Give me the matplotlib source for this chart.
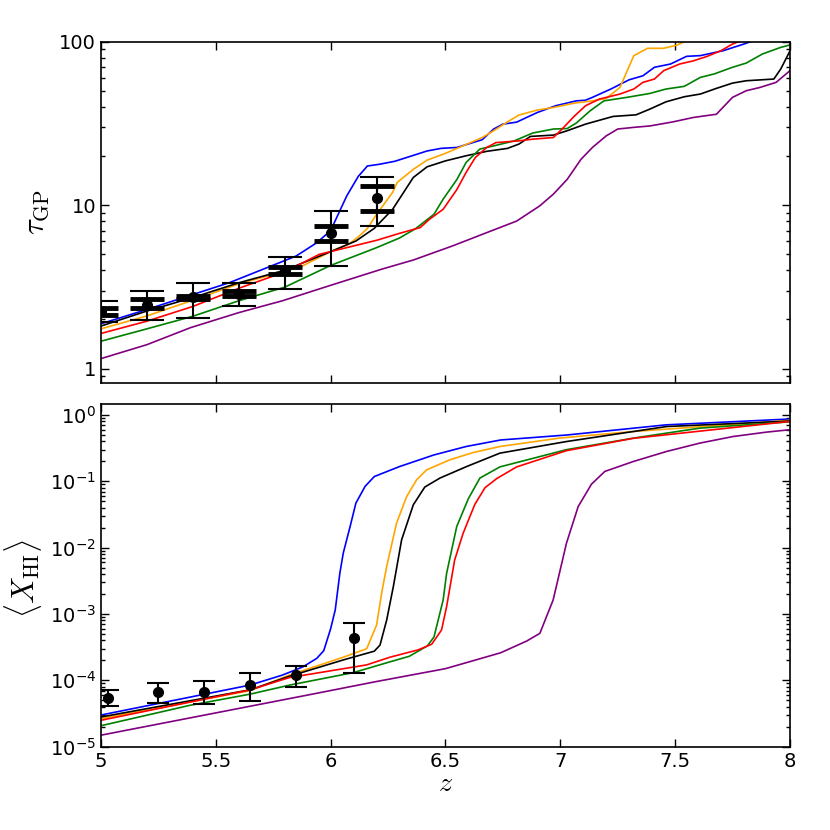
import math
import matplotlib
matplotlib.use("Agg")
import matplotlib.pyplot as plt
from matplotlib.ticker import FixedLocator, FuncFormatter, LogLocator, NullFormatter

plt.rcParams["font.family"] = ["DejaVu Sans"]
plt.rcParams["mathtext.fontset"] = "cm"

# --- tau_GP model curves (top panel)
z_tau_blue = [5.0, 5.2, 5.4, 5.56, 5.74, 5.85, 5.94, 6.0, 6.07, 6.12, 6.16, 6.21, 6.28, 6.42,
              6.48, 6.55, 6.66, 6.71, 6.75, 6.81, 6.90, 6.98, 7.07, 7.11, 7.14, 7.22, 7.30,
              7.36, 7.41, 7.48, 7.55, 7.61, 7.71, 7.80, 7.85]
tau_blue = [1.88, 2.3, 2.84, 3.36, 4.24, 4.89, 5.9, 7.0, 11.4, 15.0, 17.4, 17.8, 18.6, 21.5,
            22.3, 22.6, 25.2, 29.3, 31.4, 32.3, 37.0, 40.7, 43.6, 44.0, 45.8, 51.5, 58.7,
            62.1, 70.0, 73.3, 81.7, 82.5, 88.5, 97.2, 103.0]

z_tau_orange = [5.0, 5.2, 5.4, 5.6, 5.87, 6.0, 6.08, 6.12, 6.16, 6.2, 6.27, 6.29, 6.36, 6.42,
                6.5, 6.56, 6.66, 6.71, 6.77, 6.82, 6.9, 6.97, 7.06, 7.14, 7.2, 7.26, 7.32,
                7.38, 7.45, 7.51, 7.55]
tau_orange = [1.75, 2.1, 2.62, 3.3, 4.2, 5.2, 5.8, 6.4, 7.2, 8.8, 12.0, 13.8, 16.6, 18.9,
              20.8, 22.6, 26.0, 28.6, 32.4, 35.7, 38.3, 39.7, 42.2, 43.6, 45.1, 52.7, 82.4,
              91.5, 91.5, 95.9, 102.0]

z_tau_black = [5.0, 5.2, 5.4, 5.6, 5.8, 6.0, 6.11, 6.19, 6.27, 6.36, 6.42, 6.5, 6.59, 6.68,
               6.77, 6.82, 6.87, 6.97, 7.03, 7.11, 7.23, 7.33, 7.39, 7.46, 7.54, 7.61, 7.68,
               7.75, 7.81, 7.93, 7.96, 8.0]
tau_black = [1.82, 2.25, 2.72, 3.35, 4.0, 5.2, 6.04, 7.22, 9.45, 14.8, 17.2, 18.7, 20.1, 21.4,
             22.3, 23.7, 26.4, 26.9, 28.6, 31.4, 35.0, 35.8, 38.8, 43.0, 46.2, 48.0, 52.0,
             56.0, 57.9, 59.3, 68.3, 88.0]

z_tau_green = [5.0, 5.2, 5.4, 5.6, 5.8, 6.0, 6.2, 6.3, 6.37, 6.45, 6.49, 6.55, 6.59, 6.65,
               6.71, 6.8, 6.88, 6.97, 7.03, 7.07, 7.13, 7.19, 7.29, 7.39, 7.46, 7.54, 7.61,
               7.67, 7.75, 7.81, 7.88, 7.96, 8.0]
tau_green = [1.47, 1.75, 2.09, 2.6, 3.15, 4.28, 5.5, 6.3, 7.19, 8.81, 10.9, 14.4, 18.3, 22.1,
             23.1, 24.8, 27.7, 29.3, 29.5, 31.9, 37.9, 43.6, 45.8, 48.4, 51.5, 53.5, 60.7,
             63.7, 70.0, 74.3, 84.4, 92.7, 95.9]

z_tau_red = [5.0, 5.2, 5.4, 5.6, 5.8, 5.95, 6.2, 6.3, 6.39, 6.43, 6.49, 6.55, 6.59, 6.63,
             6.68, 6.72, 6.77, 6.82, 6.88, 6.97, 7.01, 7.06, 7.11, 7.17, 7.26, 7.32, 7.36,
             7.41, 7.45, 7.52, 7.58, 7.64, 7.70, 7.75, 7.79]
tau_red = [1.64, 1.95, 2.4, 3.1, 3.9, 5.0, 6.1, 6.73, 7.3, 8.2, 9.45, 12.5, 15.9, 19.6,
           22.6, 24.2, 24.5, 24.8, 25.4, 26.0, 29.5, 35.0, 40.7, 44.7, 48.0, 51.5, 56.6,
           59.3, 66.7, 73.3, 76.7, 81.7, 88.5, 97.2, 102.0]

z_tau_purple = [5.0, 5.2, 5.39, 5.6, 5.79, 5.99, 6.22, 6.36, 6.53, 6.68, 6.81, 6.91, 6.97,
                7.03, 7.09, 7.14, 7.2, 7.25, 7.32, 7.39, 7.49, 7.58, 7.68, 7.75, 7.81, 7.87,
                7.94, 8.0]
tau_purple = [1.15, 1.4, 1.78, 2.2, 2.6, 3.2, 4.05, 4.62, 5.63, 6.8, 8.0, 9.9, 11.7,
              14.4, 19.1, 22.6, 26.6, 29.3, 30.0, 30.6, 32.4, 34.5, 36.1, 45.8, 50.3, 52.7,
              56.6, 66.7]

# --- tau_GP measurements
z_tau_obs = [5.0, 5.2, 5.4, 5.6, 5.8, 6.0, 6.2]
tau_obs = [2.25, 2.44, 2.74, 2.87, 3.99, 6.73, 11.15]
tau_lo = [1.92, 1.97, 2.05, 2.40, 3.08, 4.24, 7.46]
tau_hi = [2.59, 2.97, 3.32, 3.36, 4.84, 9.23, 14.9]
tau_lo2 = [2.14, 2.36, 2.68, 2.78, 3.77, 6.04, 9.23]
tau_hi2 = [2.36, 2.65, 2.80, 3.00, 4.21, 7.46, 13.1]

# --- <x_HI> model curves (bottom panel)
z_x_blue = [5.0, 5.65, 5.79, 5.88, 5.94, 5.97, 6.0, 6.02, 6.04, 6.055, 6.085, 6.11, 6.15,
            6.19, 6.3, 6.45, 6.59, 6.74, 7.03, 7.46, 8.0]
x_blue = [3.0e-5, 8.5e-5, 1.2e-4, 1.6e-4, 2.15e-4, 2.8e-4, 6.0e-4, 1.15e-3, 4.1e-3, 8.3e-3,
          2.1e-2, 4.7e-2, 8.4e-2, 0.118, 0.167, 0.25, 0.335, 0.42, 0.5, 0.71, 0.87]

z_x_orange = [5.0, 5.65, 5.82, 6.055, 6.157, 6.2, 6.222, 6.244, 6.287, 6.331, 6.374, 6.418,
              6.519, 6.621, 6.737, 7.0, 7.318, 8.0]
x_orange = [2.65e-5, 7.0e-5, 1.2e-4, 2.23e-4, 3.0e-4, 6.8e-4, 2.06e-3, 5.2e-3, 2.34e-2,
            5.9e-2, 0.105, 0.149, 0.211, 0.272, 0.335, 0.45, 0.564, 0.83]

z_x_black = [5.0, 5.65, 5.82, 6.055, 6.19, 6.215, 6.244, 6.273, 6.309, 6.36, 6.41, 6.476,
             6.592, 6.737, 7.027, 7.463, 8.0]
x_black = [2.8e-5, 7.2e-5, 1.15e-4, 2.03e-4, 2.75e-4, 3.4e-4, 8.1e-4, 2.59e-3, 1.31e-2,
           4.43e-2, 8.2e-2, 0.112, 0.167, 0.266, 0.398, 0.67, 0.81]

z_x_green = [5.0, 5.387, 5.65, 5.823, 6.1, 6.258, 6.342, 6.421, 6.45, 6.49, 6.505, 6.549,
             6.6, 6.65, 6.737, 7.027, 7.318, 7.608, 8.0]
x_green = [2.07e-5, 4.2e-5, 6.2e-5, 8.5e-5, 1.31e-4, 1.9e-4, 2.3e-4, 3.3e-4, 4.5e-4, 1.63e-3,
           4.1e-3, 2.08e-2, 5.5e-2, 0.112, 0.165, 0.3, 0.448, 0.634, 0.79]

z_x_red = [5.0, 5.65, 5.82, 6.157, 6.258, 6.381, 6.44, 6.483, 6.505, 6.54, 6.577, 6.628,
           6.672, 6.723, 6.81, 7.027, 7.318, 8.0]
x_red = [2.5e-5, 7.2e-5, 1.1e-4, 1.71e-4, 2.23e-4, 2.88e-4, 3.5e-4, 5.75e-4, 1.29e-3,
         6.5e-3, 1.65e-2, 4.5e-2, 8.0e-2, 0.11, 0.165, 0.29, 0.445, 0.8]

z_x_purple = [5.0, 5.3, 5.6, 5.9, 6.2, 6.5, 6.74, 6.853, 6.911, 6.969, 7.027, 7.078, 7.136,
              7.194, 7.318, 7.463, 7.608, 7.753, 7.898, 8.0]
x_purple = [1.49e-5, 2.37e-5, 3.77e-5, 6.0e-5, 9.6e-5, 1.5e-4, 2.6e-4, 3.9e-4, 5.1e-4,
            1.63e-3, 1.17e-2, 4.17e-2, 9.08e-2, 0.141, 0.199, 0.282, 0.377, 0.474, 0.552, 0.6]

# --- <x_HI> measurements
z_x_obs = [5.03, 5.25, 5.45, 5.65, 5.85, 6.1]
x_obs = [5.5e-5, 6.6e-5, 6.6e-5, 8.5e-5, 1.2e-4, 4.3e-4]
x_lo = [4.1e-5, 4.6e-5, 4.4e-5, 4.9e-5, 7.9e-5, 1.31e-4]
x_hi = [7.2e-5, 9.0e-5, 9.8e-5, 1.31e-4, 1.65e-4, 7.3e-4]

model_colors = ["blue", "orange", "black", "green", "red", "purple"]

fig = plt.figure(figsize=(8.3, 8.3), dpi=100)
ax1 = fig.add_axes([0.1217, 0.538, 0.830, 0.4114])
ax2 = fig.add_axes([0.1217, 0.1004, 0.830, 0.4125])

# --- top panel
tau_curves = [(z_tau_blue, tau_blue), (z_tau_orange, tau_orange), (z_tau_black, tau_black),
              (z_tau_green, tau_green), (z_tau_red, tau_red), (z_tau_purple, tau_purple)]
for (zz, vv), c in zip(tau_curves, model_colors):
    ax1.plot(zz, vv, color=c, lw=1.2)

err_thin = [[t - l for t, l in zip(tau_obs, tau_lo)], [h - t for t, h in zip(tau_obs, tau_hi)]]
err_thick = [[t - l for t, l in zip(tau_obs, tau_lo2)], [h - t for t, h in zip(tau_obs, tau_hi2)]]
ax1.errorbar(z_tau_obs, tau_obs, yerr=err_thin, fmt="o", color="black", ms=7,
             elinewidth=1.5, capsize=12, capthick=1.5, zorder=5)
ax1.errorbar(z_tau_obs, tau_obs, yerr=err_thick, fmt="none", ecolor="black",
             elinewidth=1.5, capsize=12, capthick=3.5, zorder=5)

ax1.set_yscale("log")
ax1.set_xlim(5, 8)
ax1.set_ylim(0.81, 100)
ax1.yaxis.set_major_locator(FixedLocator([1, 10, 100]))
ax1.yaxis.set_major_formatter(FuncFormatter(lambda v, p: "%g" % v))
ax1.yaxis.set_minor_locator(LogLocator(base=10, subs=range(2, 10)))
ax1.yaxis.set_minor_formatter(NullFormatter())
ax1.set_xticks([5, 5.5, 6, 6.5, 7, 7.5, 8])
ax1.set_xticklabels([])
ax1.set_ylabel(r"$\tau_{\rm GP}$", fontsize=22)
ax1.yaxis.set_label_coords(-0.072, 0.5)

# --- bottom panel
x_curves = [(z_x_blue, x_blue), (z_x_orange, x_orange), (z_x_black, x_black),
            (z_x_green, x_green), (z_x_red, x_red), (z_x_purple, x_purple)]
for (zz, vv), c in zip(x_curves, model_colors):
    ax2.plot(zz, vv, color=c, lw=1.2)

err_x = [[v - l for v, l in zip(x_obs, x_lo)], [h - v for v, h in zip(x_obs, x_hi)]]
ax2.errorbar(z_x_obs, x_obs, yerr=err_x, fmt="o", color="black", ms=7,
             elinewidth=1.5, capsize=8, capthick=1.5, zorder=5)

ax2.set_yscale("log")
ax2.set_xlim(5, 8)
ax2.set_ylim(1e-5, 1.45)
ax2.yaxis.set_major_locator(FixedLocator([1e-5, 1e-4, 1e-3, 1e-2, 1e-1, 1]))
ax2.yaxis.set_major_formatter(FuncFormatter(
    lambda v, p: r"$\mathregular{10^{%d}}$" % round(math.log10(v))))
ax2.yaxis.set_minor_locator(LogLocator(base=10, subs=range(2, 10)))
ax2.yaxis.set_minor_formatter(NullFormatter())
ax2.set_xticks([5, 5.5, 6, 6.5, 7, 7.5, 8])
ax2.set_xticklabels(["5", "5.5", "6", "6.5", "7", "7.5", "8"])
ax2.set_ylabel(r"$\langle X_{\rm HI}\rangle$", fontsize=22)
ax2.yaxis.set_label_coords(-0.083, 0.49)
ax2.set_xlabel(r"$z$", fontsize=20)
ax2.xaxis.set_label_coords(0.5, -0.066)

for ax in (ax1, ax2):
    ax.tick_params(which="both", direction="in", top=True, right=True, labelsize=14)
    ax.tick_params(which="major", length=6, width=1)
    ax.tick_params(which="minor", length=3, width=1)
    for s in ax.spines.values():
        s.set_linewidth(1.2)

plt.savefig("out.png", dpi=100)
